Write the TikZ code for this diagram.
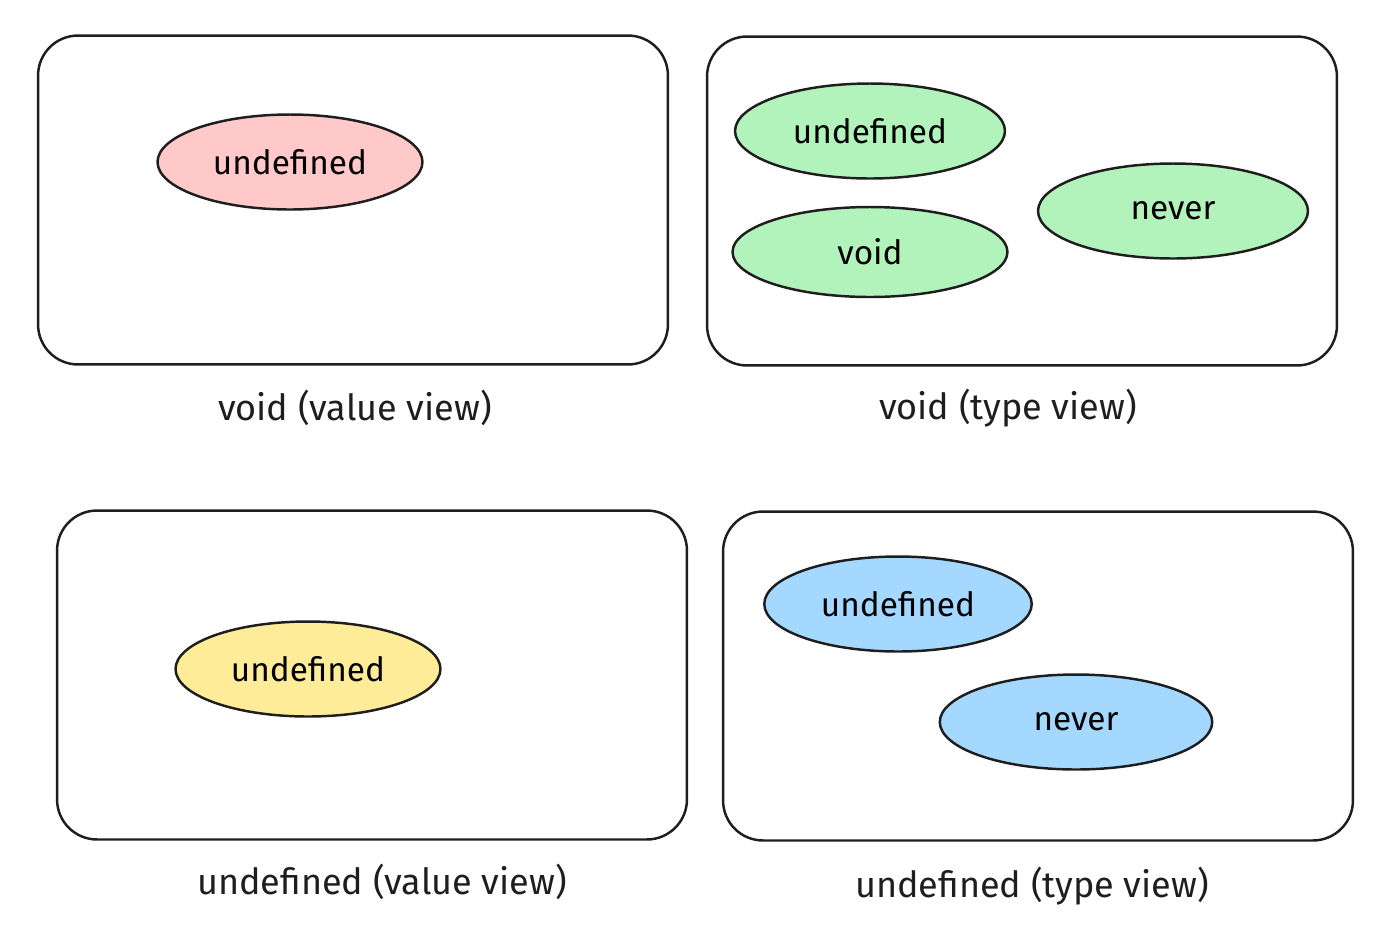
\documentclass[tikz,border=0pt]{standalone}
\usepackage{fontspec}
\setmainfont{Fira Sans}
\usetikzlibrary{shapes.geometric}

\definecolor{pinkfill}{HTML}{FFC9C9}
\definecolor{greenfill}{HTML}{B2F2BB}
\definecolor{yellowfill}{HTML}{FFEC99}
\definecolor{bluefill}{HTML}{A5D8FF}
\definecolor{inkline}{HTML}{1E1E1E}

\tikzset{
  panel/.style={draw=inkline,line width=1.4pt,rounded corners=0.8cm,minimum width=12.6cm,minimum height=6.58cm,inner sep=0},
  blob/.style={ellipse,draw=inkline,line width=1.4pt,minimum width=5.3cm,minimum height=1.9cm,inner sep=0,font=\fontsize{19}{22}\selectfont},
  caption/.style={font=\fontsize{20.5}{24}\selectfont,text=inkline}
}

\begin{document}
\begin{tikzpicture}[x=0.02cm,y=-0.02cm]
\useasboundingbox (0,0) rectangle (1396,934);

% panels
\node[panel] (voidval) at (353,200) {};
\node[panel] (voidtype) at (1022,201) {};
\node[panel] (undefval) at (372,675) {};
\node[panel] (undeftype) at (1038,676) {};

% captions
\node[caption] (capA) at (355,408) {void (value view)};
\node[caption] (capB) at (1008,408) {void (type view)};
\node[caption] (capC) at (382,882) {undefined (value view)};
\node[caption] (capD) at (1032,886) {undefined (type view)};

% void, value view
\node[blob,fill=pinkfill] (vvUndef) at (290,162) {undefined};

% void, type view
\node[blob,fill=greenfill,minimum width=5.4cm] (vtUndef) at (870,131) {undefined};
\node[blob,fill=greenfill,minimum width=5.5cm,minimum height=1.8cm] (vtVoid) at (870,252) {void};
\node[blob,fill=greenfill,minimum width=5.4cm] (vtNever) at (1173,211) {never};

% undefined, value view
\node[blob,fill=yellowfill] (uvUndef) at (308,669) {undefined};

% undefined, type view
\node[blob,fill=bluefill,minimum width=5.35cm] (utUndef) at (898,604) {undefined};
\node[blob,fill=bluefill,minimum width=5.45cm] (utNever) at (1076,722) {never};
\end{tikzpicture}
\end{document}
